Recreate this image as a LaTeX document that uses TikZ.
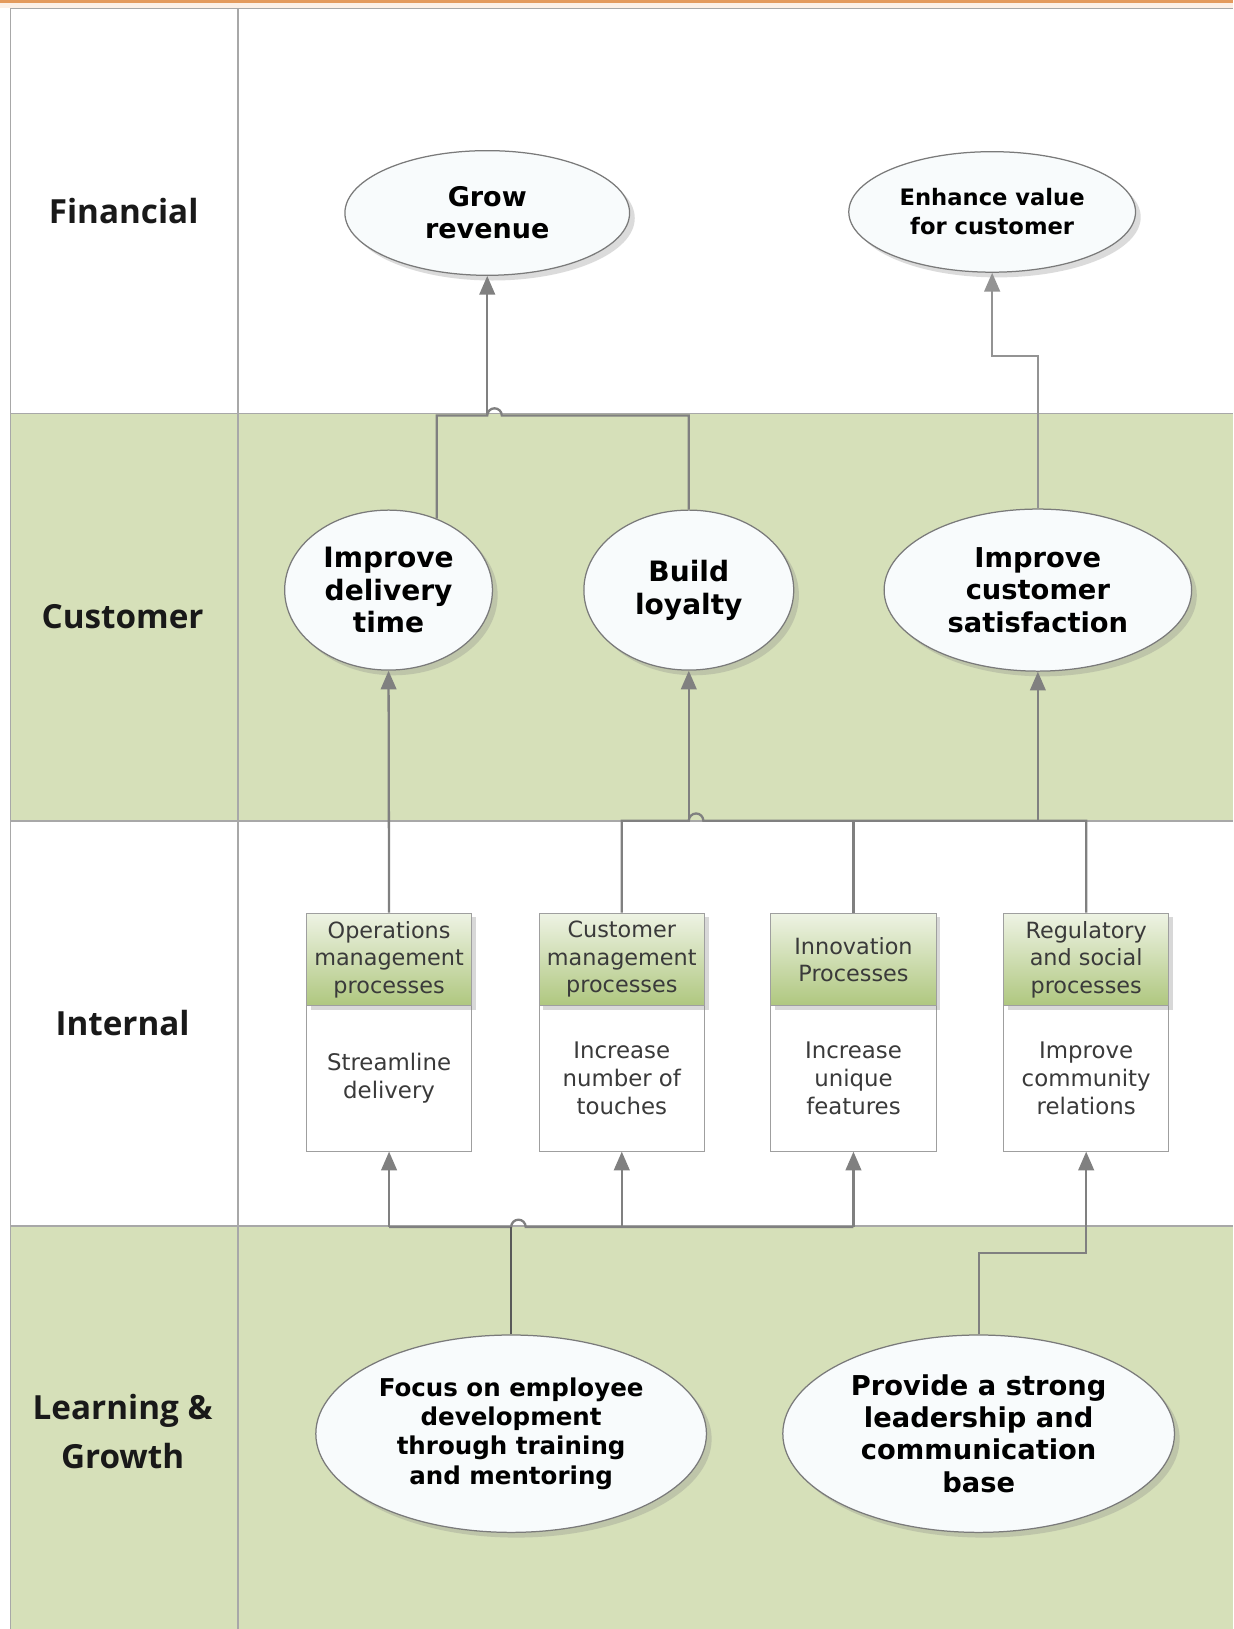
\documentclass[tikz,border=0pt]{standalone}
\usepackage{fontspec}
\setmainfont{DejaVu Sans}
\newfontfamily\labfont{Open Sans}
\usetikzlibrary{shapes.geometric,arrows.meta,shadows,calc}
\definecolor{band}{HTML}{D6E0B9}
\definecolor{sepgray}{HTML}{A8A8A8}
\definecolor{conn}{HTML}{808080}
\definecolor{efill}{HTML}{F8FBFC}
\definecolor{eline}{HTML}{7A7A7A}
\definecolor{htop}{HTML}{EEF3E4}
\definecolor{hbot}{HTML}{AFC77F}
\definecolor{txt}{HTML}{3A3A3A}
\definecolor{orng}{HTML}{E39A5C}
\definecolor{peach}{HTML}{FCF0E6}
\begin{document}
\begin{tikzpicture}[x=1pt,y=-1pt,
  goal/.style={ellipse, draw=eline, line width=1.2pt, fill=efill, inner sep=0pt, align=center,
    drop shadow={shadow xshift=5pt,shadow yshift=-5pt,opacity=0.28}},
  rowlab/.style={font=\labfont\bfseries\fontsize{32}{47}\selectfont, align=center, text=black!90},
  headbox/.style={rectangle, draw=gray!75, line width=1pt, top color=htop, bottom color=hbot,
    minimum width=159pt, minimum height=89pt, inner sep=0pt, align=center, text=txt,
    font=\fontsize{21.5}{26.5}\selectfont,
    drop shadow={shadow xshift=4pt,shadow yshift=-4pt,opacity=0.3}},
  bodybox/.style={rectangle, draw=gray!75, line width=1pt, fill=white,
    minimum width=159pt, minimum height=140pt, inner sep=0pt, align=center, text=txt,
    font=\fontsize{22}{27}\selectfont},
  wire/.style={draw=conn, line width=2.2pt},
  arr/.style={wire, -{Triangle[width=15pt,length=18pt]}},
]
\useasboundingbox (0,0) rectangle (1187,1568);
% background
\fill[white] (0,0) rectangle (1187,1568);
\fill[orng] (0,0) rectangle (1187,2.5);
\fill[peach] (0,2.5) rectangle (1187,8);
\fill[band] (10,398) rectangle (1187,790);
\fill[band] (10,1180) rectangle (1187,1568);
\draw[sepgray, line width=1.5pt] (10,8) -- (1187,8);
\draw[sepgray, line width=1.5pt] (10,398) -- (1187,398);
\draw[sepgray, line width=1.5pt] (10,790) -- (1187,790);
\draw[sepgray, line width=1.5pt] (10,1180) -- (1187,1180);
\draw[sepgray, line width=1.5pt] (10,8) -- (10,1568);
\draw[sepgray, line width=1.2pt] (229,8) -- (229,1568);

% row labels
\node[rowlab] (lfin) at (119,203) {Financial};
\node[rowlab] (lcus) at (118,594) {Customer};
\node[rowlab] (lint) at (118,985) {Internal};
\node[rowlab] (llea) at (118,1378) {Learning \&\\Growth};

% goals
\node[goal, minimum width=274pt, minimum height=120pt, font=\bfseries\fontsize{26}{31}\selectfont] (grow) at (469,205) {Grow\\revenue};
\node[goal, minimum width=276pt, minimum height=116pt, font=\bfseries\fontsize{21.8}{28}\selectfont] (enhance) at (955,204) {Enhance value\\for customer};
\node[goal, minimum width=200pt, minimum height=154pt, font=\bfseries\fontsize{27}{31.5}\selectfont] (delivery) at (374,568) {Improve\\delivery\\time};
\node[goal, minimum width=202pt, minimum height=154pt, font=\bfseries\fontsize{27}{31.5}\selectfont] (loyalty) at (663,568) {Build\\loyalty};
\node[goal, minimum width=296pt, minimum height=156pt, font=\bfseries\fontsize{26.3}{31.5}\selectfont] (satisf) at (999,568) {Improve\\customer\\satisfaction};
\node[goal, minimum width=376pt, minimum height=190pt, font=\bfseries\fontsize{23.6}{28}\selectfont] (focus) at (492,1380) {Focus on employee\\development\\through training\\and mentoring};
\node[goal, minimum width=377pt, minimum height=190pt, font=\bfseries\fontsize{26.3}{31}\selectfont] (lead) at (942,1380) {Provide a strong\\leadership and\\communication\\base};

% process boxes
\node[bodybox] (opsB) at (374.5,1038) {Streamline\\delivery};
\node[bodybox] (custB) at (598.5,1038) {Increase\\number of\\touches};
\node[bodybox] (innB) at (821.5,1038) {Increase\\unique\\features};
\node[bodybox] (regB) at (1045.5,1038) {Improve\\community\\relations};
\node[headbox] (opsH) at (374.5,923.5) {Operations\\management\\processes};
\node[headbox] (custH) at (598.5,923.5) {Customer\\management\\processes};
\node[headbox] (innH) at (821.5,923.5) {Innovation\\Processes};
\node[headbox] (regH) at (1045.5,923.5) {Regulatory\\and social\\processes};

% connectors: customer -> financial
\coordinate (jA) at (469,400);
\draw[wire] (delivery.56) |- (jA) arc[start angle=180,end angle=0,radius=7pt] -- (loyalty.north |- jA) -- (loyalty.north);
\draw[arr] (jA) -- (grow.south);
\coordinate (jB) at (955,343);
\draw[arr, draw=conn!85] (satisf.north) |- (jB) -- (enhance.south);

% internal -> customer
\draw[arr] (opsH.north) -- (delivery.south);
\coordinate (jC) at (663,790);
\draw[wire] (custH.north) |- (jC) arc[start angle=180,end angle=0,radius=7pt] -- (regH.north |- jC) -- (regH.north);
\draw[wire] (innH.north) -- (innH.north |- jC);
\draw[arr] (jC) -- (loyalty.south);
\draw[arr] (satisf.south |- jC) -- (satisf.south);

% learning -> internal
\coordinate (jD) at (492,1181);
\draw[wire] (opsB.south |- jD) -- (jD) arc[start angle=180,end angle=0,radius=7pt] -- (innB.south |- jD);
\draw[wire, draw=black!65] (focus.north) -- (jD);
\draw[arr] (opsB.south |- jD) -- (opsB.south);
\draw[arr] (custB.south |- jD) -- (custB.south);
\draw[arr] (innB.south |- jD) -- (innB.south);
\coordinate (jE) at (942,1206);
\draw[arr] (lead.north) -- (jE) -| (regB.south);
\end{tikzpicture}
\end{document}
